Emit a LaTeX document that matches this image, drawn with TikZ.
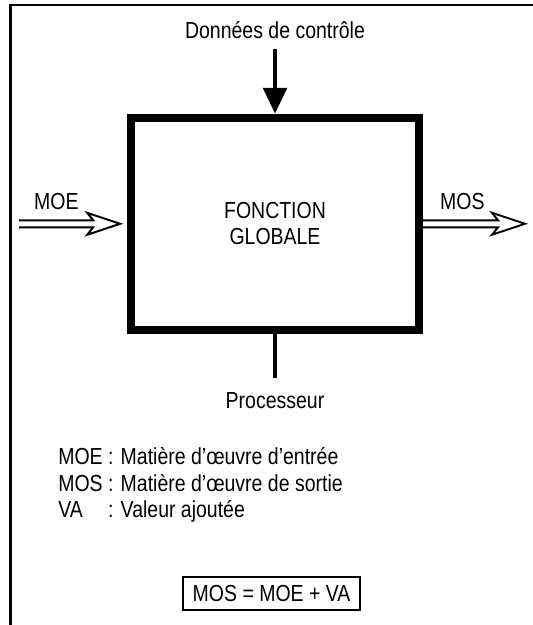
\documentclass[tikz,border=0pt]{standalone}
\usepackage{fontspec}
\setmainfont{Liberation Sans}[FakeStretch=0.84]
\usetikzlibrary{arrows.meta,positioning,calc}
\newcommand{\fgfont}{\fontsize{16.5}{18.6}\selectfont}
\tikzset{
    fgframe/.style={line width=2.1pt},
    fgbox/.style={draw, line width=5.7pt, minimum width=7.2cm, minimum height=5.3cm, align=center, font=\fgfont},
    fglabel/.style={inner sep=0pt, font=\fgfont},
    fgctrl/.style={-{Triangle[length=0.65cm, width=0.58cm]}, line width=3.5pt},
    fgstem/.style={line width=3.3pt},
    fgflow/.style={line width=1.4pt, to path={let \p1=(\tikztostart), \p2=(\tikztotarget) in
        (\x1,\y1+0.0875cm) -- (\x2-#1-0.675cm,\y1+0.0875cm) -- (\x2-#1-0.825cm,\y1+0.275cm)
        -- (\x2-#1,\y1) -- (\x2-#1-0.825cm,\y1-0.275cm) -- (\x2-#1-0.675cm,\y1-0.0875cm)
        -- (\x1,\y1-0.0875cm)}},
    fgflow/.default=0pt,
    fgformula/.style={draw, line width=1pt, minimum width=4.425cm, minimum height=0.825cm, inner sep=0pt, font=\fgfont}
}

\begin{document}
\begin{tikzpicture}
        \useasboundingbox (0,0) rectangle (13.3,15.625);
        \draw[fgframe] (0.27,-1) -- (0.27,15.5) -- (14,15.5);

        \node[fgbox] (fonction) at (6.875,10.03) {FONCTION\\GLOBALE};
        \node[fglabel, above=1.88cm of fonction] (donnees) {Données de contrôle};
        \node[fglabel, below=1.45cm of fonction] (processeur) {Processeur};
        \coordinate (moetail) at (0.475,10.03);
        \coordinate (mostip) at (13.125,10.03);
        \node[fglabel, anchor=base] (moe) at (1.41,10.375) {MOE};
        \node[fglabel, anchor=base] (mos) at (11.56,10.375) {MOS};
        \node[fglabel, anchor=base west] (legende) at (1.45,4.0) {\begin{tabular}[t]{@{}l@{\ }l@{}}
            MOE & : Matière d'œuvre d'entrée\\
            MOS & : Matière d'œuvre de sortie\\
            VA & : Valeur ajoutée
        \end{tabular}};
        \node[fgformula] (formule) at (6.79,0.7875) {MOS = MOE + VA};

        \draw[fgctrl, shorten <=0.26cm] (donnees) -- (fonction);
        \draw[fgstem, shorten >=0.35cm] (fonction) -- (processeur);
        \draw[fgflow=0.17cm] (moetail) to (fonction.west);
        \draw[fgflow] (fonction.east) to (mostip);
    \end{tikzpicture}
\end{document}
